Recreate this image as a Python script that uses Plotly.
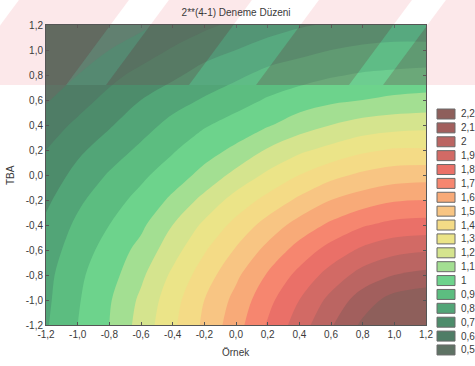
import plotly.graph_objects as go

# Grid of the response surface (x = Örnek, y = TBA)
x_vals = [-1.2, -1.0, -0.8, -0.6, -0.4, -0.2, 0.0, 0.2, 0.4, 0.6, 0.8, 1.0, 1.2]
y_vals = [-1.2, -1.0, -0.8, -0.6, -0.4, -0.2, 0.0, 0.2, 0.4, 0.6, 0.8, 1.0, 1.2]
z_vals = [
    [0.79, 0.90, 1.00, 1.14, 1.28, 1.42, 1.56, 1.71, 1.85, 1.99, 2.12, 2.25, 2.32],
    [0.78, 0.89, 0.99, 1.12, 1.26, 1.40, 1.53, 1.67, 1.80, 1.93, 2.05, 2.14, 2.17],
    [0.77, 0.88, 0.96, 1.08, 1.22, 1.35, 1.48, 1.61, 1.73, 1.84, 1.94, 2.00, 2.03],
    [0.75, 0.85, 0.94, 1.03, 1.16, 1.29, 1.41, 1.53, 1.64, 1.74, 1.82, 1.87, 1.89],
    [0.72, 0.82, 0.90, 0.98, 1.10, 1.22, 1.33, 1.44, 1.54, 1.62, 1.69, 1.73, 1.74],
    [0.68, 0.78, 0.86, 0.93, 1.02, 1.13, 1.24, 1.33, 1.42, 1.50, 1.55, 1.59, 1.60],
    [0.64, 0.73, 0.81, 0.88, 0.95, 1.03, 1.13, 1.22, 1.30, 1.37, 1.42, 1.45, 1.46],
    [0.60, 0.68, 0.75, 0.82, 0.89, 0.96, 1.02, 1.11, 1.18, 1.23, 1.28, 1.31, 1.31],
    [0.55, 0.62, 0.69, 0.76, 0.83, 0.89, 0.94, 0.99, 1.05, 1.10, 1.14, 1.16, 1.17],
    [0.49, 0.56, 0.63, 0.70, 0.76, 0.81, 0.86, 0.91, 0.95, 0.98, 1.00, 1.02, 1.03],
    [0.43, 0.50, 0.57, 0.63, 0.68, 0.74, 0.78, 0.83, 0.86, 0.89, 0.91, 0.92, 0.93],
    [0.37, 0.44, 0.50, 0.55, 0.61, 0.66, 0.70, 0.74, 0.77, 0.80, 0.82, 0.83, 0.83],
    [0.31, 0.37, 0.43, 0.48, 0.53, 0.58, 0.62, 0.66, 0.69, 0.71, 0.73, 0.74, 0.74],
]

# Legend levels and their colours (lowest to highest)
levels = [0.5, 0.6, 0.7, 0.8, 0.9, 1.0, 1.1, 1.2, 1.3, 1.4, 1.5, 1.6, 1.7, 1.8, 1.9, 2.0, 2.1, 2.2]
level_labels = ["0,5", "0,6", "0,7", "0,8", "0,9", "1", "1,1", "1,2", "1,3", "1,4",
                "1,5", "1,6", "1,7", "1,8", "1,9", "2", "2,1", "2,2"]
level_colors = ["#5e7264", "#4f7d66", "#4d8c6b", "#52a577", "#5cbd80", "#6dd38c",
                "#a3df92", "#d5e48e", "#ebe488", "#f4db86", "#f8c583", "#f8aa78",
                "#f6866f", "#ea7068", "#d26a65", "#bb6562", "#a25f5d", "#8e5f5b"]

tick_vals = [-1.2, -1.0, -0.8, -0.6, -0.4, -0.2, 0.0, 0.2, 0.4, 0.6, 0.8, 1.0, 1.2]
tick_text = ["-1,2", "-1,0", "-0,8", "-0,6", "-0,4", "-0,2", "0,0", "0,2", "0,4", "0,6", "0,8", "1,0", "1,2"]

n = len(levels)
cscale = []
for i, c in enumerate(level_colors):
    cscale.append([i / n, c])
    cscale.append([(i + 1) / n, c])

fig = go.Figure(go.Contour(
    x=x_vals, y=y_vals, z=z_vals,
    contours=dict(start=levels[0], end=levels[-2], size=0.1, coloring="fill"),
    colorscale=cscale,
    showscale=False,
    line=dict(width=0, smoothing=1.0),
    hoverinfo="skip",
))

FONT = "Liberation Sans, Arial, sans-serif"
TXT = "#3a3a3a"

# plot area in pixels: x 46..426, y 25..325
PL, PR, PT, PB = 46, 426, 25, 325


def px_to_data(px, py):
    return -1.2 + (px - PL) * 2.4 / (PR - PL), 1.2 - (py - PT) * 2.4 / (PB - PT)


def px_to_paper(px, py):
    return (px - PL) / (PR - PL), (PB - py) / (PB - PT)


shapes = []
annotations = []

# faint scanned watermark (diagonal stripes over the top of the page)
SLOPE = 0.74
WM_BOTTOM = 85
covered = [(-44, 66), (106, 189), (256, 349), (383, 499)]
gaps = [(66, 106), (189, 256), (349, 383)]


def stripe_path(x0, x1, conv):
    pts = [(x0, WM_BOTTOM), (x1, WM_BOTTOM),
           (x1 + SLOPE * WM_BOTTOM, 0), (x0 + SLOPE * WM_BOTTOM, 0)]
    cp = [conv(px, py) for px, py in pts]
    return "M " + " L ".join(f"{a:.4f},{b:.4f}" for a, b in cp) + " Z"


for a, b in covered:
    shapes.append(dict(type="path", xref="paper", yref="paper", layer="below",
                       path=stripe_path(a, b, px_to_paper),
                       fillcolor="rgba(240,140,150,0.2)", line=dict(width=0)))
    shapes.append(dict(type="path", xref="x", yref="y", layer="above",
                       path=stripe_path(a, b, px_to_data),
                       fillcolor="rgba(105,92,90,0.36)", line=dict(width=0)))
for a, b in gaps:
    shapes.append(dict(type="path", xref="x", yref="y", layer="above",
                       path=stripe_path(a, b, px_to_data),
                       fillcolor="rgba(110,185,160,0.2)", line=dict(width=0)))

pitch = 13.88
for k in range(n):
    idx = n - 1 - k
    cy = 114 + pitch * k
    x0p, y0p = px_to_paper(437, cy + 5)
    x1p, y1p = px_to_paper(455, cy - 5)
    shapes.append(dict(type="rect", xref="paper", yref="paper",
                       x0=x0p, x1=x1p, y0=y0p, y1=y1p,
                       fillcolor=level_colors[idx], line=dict(color="#6a6a6a", width=1)))
    lx, ly = px_to_paper(459, cy)
    annotations.append(dict(xref="paper", yref="paper", x=lx, y=ly,
                            text=level_labels[idx], showarrow=False, xanchor="left", yanchor="middle",
                            font=dict(family=FONT, size=10, color=TXT)))

annotations.append(dict(xref="paper", yref="paper", x=0.5, y=px_to_paper(0, 352)[1], text="Örnek",
                        showarrow=False, xanchor="center", yanchor="middle",
                        font=dict(family=FONT, size=10, color=TXT)))
annotations.append(dict(xref="paper", yref="paper", x=px_to_paper(10, 0)[0], y=0.5, text="TBA",
                        showarrow=False, xanchor="center", yanchor="middle", textangle=-90,
                        font=dict(family=FONT, size=10, color=TXT)))

axis_common = dict(
    tickvals=tick_vals, ticktext=tick_text, range=[-1.2, 1.2],
    showline=True, mirror="ticks", linecolor="#555555", linewidth=1,
    ticks="inside", ticklen=3, tickcolor="#555555",
    showgrid=False, zeroline=False,
    tickfont=dict(family=FONT, size=10, color=TXT),
)

fig.update_layout(
    width=475, height=366,
    margin=dict(l=PL, r=475 - PR, t=PT, b=366 - PB),
    paper_bgcolor="white", plot_bgcolor="white",
    title=dict(text="2**(4-1) Deneme Düzeni", x=0.497, xanchor="center",
               y=1 - 12 / 366, yanchor="middle",
               font=dict(family=FONT, size=10, color=TXT)),
    xaxis=axis_common,
    yaxis=axis_common,
    shapes=shapes,
    annotations=annotations,
    showlegend=False,
)

fig.write_html("out.html")
